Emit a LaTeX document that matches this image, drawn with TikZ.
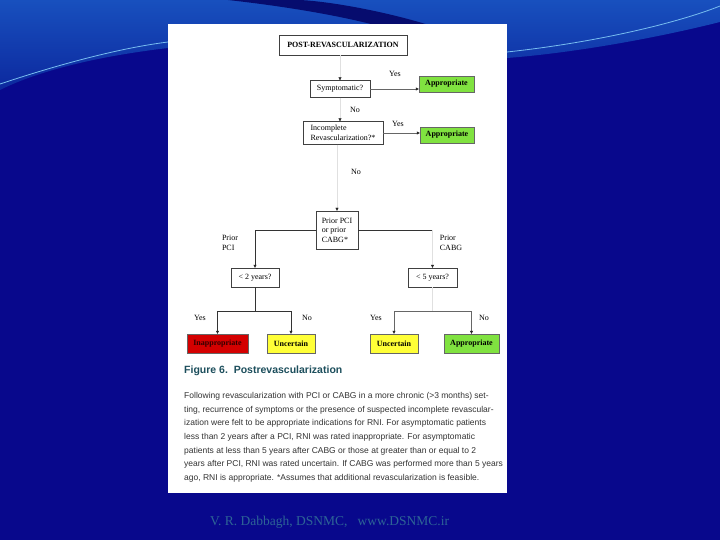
\documentclass[tikz,border=0pt]{standalone}
\usepackage{fontspec}
\setmainfont{Liberation Serif}
\newfontfamily\capfont{Liberation Sans}
\usetikzlibrary{arrows.meta,positioning}
\definecolor{bgblue}{RGB}{8,8,140}
\definecolor{topblue}{RGB}{24,80,190}
\definecolor{midblue}{RGB}{12,40,158}
\definecolor{navy}{RGB}{6,12,110}
\definecolor{streak}{RGB}{120,190,240}
\definecolor{okgreen}{RGB}{128,226,64}
\definecolor{unyellow}{RGB}{255,255,55}
\definecolor{badred}{RGB}{212,0,0}
\definecolor{capteal}{RGB}{28,78,92}
\definecolor{foot}{RGB}{45,100,150}
\begin{document}
\begin{tikzpicture}[x=1pt,y=-1pt,
  q/.style={draw=black!75,fill=white,font=\fontsize{8}{9.5}\selectfont,inner sep=1pt},
  res/.style={draw=black!60,font=\bfseries\fontsize{8}{9.5}\selectfont,inner sep=1pt,minimum height=19pt},
  lbl/.style={font=\fontsize{8}{9.5}\selectfont,align=left,inner sep=0pt},
  faint/.style={draw=black!12},
  >={Triangle[length=3pt,width=3pt,color=black!85]}]
\useasboundingbox (0,0) rectangle (720,540);
% slide background
\fill[bgblue] (0,0) rectangle (720,540);
\shade[top color=topblue,bottom color=midblue] (0,0) -- (720,0) -- (720,22) .. controls (640,42) and (560,54) .. (507,58) -- (168,48) .. controls (100,56) and (40,70) .. (0,90) -- cycle;
\fill[navy] (228,0) .. controls (300,8) and (380,22) .. (420,40) -- (470,40) .. controls (420,18) and (340,2) .. (300,0) -- cycle;
\draw[streak,line width=0.8pt] (0,84) .. controls (60,64) and (120,48) .. (168,42);
\draw[streak,line width=0.8pt] (507,52) .. controls (600,42) and (680,22) .. (720,6);
\fill[white] (168,24) rectangle (507,493);
% flow chart
\node[q,font=\bfseries\fontsize{8}{9.5}\selectfont,minimum width=128pt,minimum height=20pt] (title) at (343,45) {POST-REVASCULARIZATION};
\node[q,minimum width=60pt,minimum height=17pt] (sym) at (340,89) {Symptomatic?};
\node[res,fill=okgreen,minimum width=55pt,minimum height=16pt] (app1) at (446.5,84) {Appropriate};
\node[q,align=left,minimum width=80pt,minimum height=23pt] (inc) at (343,133) {Incomplete\\Revascularization?*};
\node[res,fill=okgreen,minimum width=54pt,minimum height=16pt] (app2) at (447,135) {Appropriate};
\node[q,align=left,minimum width=42pt,minimum height=38pt] (prior) at (337,230) {Prior PCI\\or prior\\CABG*};
\node[q,minimum width=48pt,minimum height=19pt] (lt) at (255,277.5) {< 2 years?};
\node[q,minimum width=49pt,minimum height=19pt] (rt) at (432.5,277.5) {< 5 years?};
\node[res,fill=badred,text=black!80!red,minimum width=61pt] (inap) at (217.5,343.5) {Inappropriate};
\node[res,fill=unyellow,minimum width=48pt] (unc1) at (291,343.5) {Uncertain};
\node[res,fill=unyellow,minimum width=48pt] (unc2) at (394,343.5) {Uncertain};
\node[res,fill=okgreen,minimum width=55pt] (app3) at (471.5,343.5) {Appropriate};
% labels
\node[lbl] (y1) at (395,74) {Yes};
\node[lbl] (n1) at (355,110) {No};
\node[lbl] (y2) at (398,124) {Yes};
\node[lbl] (n2) at (356,172) {No};
\node[lbl] (pp) at (230,243) {Prior\\PCI};
\node[lbl] (pc) at (451,243) {Prior\\CABG};
\node[lbl] (y3) at (200,318) {Yes};
\node[lbl] (n3) at (307,318) {No};
\node[lbl] (y4) at (376,318) {Yes};
\node[lbl] (n4) at (484,318) {No};
% connectors
\draw[faint,->] (title.south -| sym.north) -- (sym.north);
\draw[draw=black!60,->] (sym.east) -- (sym.east -| app1.west);
\draw[faint,->] (sym.south) -- (sym.south |- inc.north);
\draw[draw=black!60,->] (inc.east) -- (inc.east -| app2.west);
\draw[faint,->] (inc.south -| prior.north) -- (prior.north);
\draw[draw=black!80,->] (prior.west) -| (lt.north);
\draw[draw=black!80] (prior.east) -- (prior.east -| rt.north) coordinate (rc);
\draw[faint,->] (rc) -- (rt.north);
\draw[draw=black!80] (lt.south) -- ++(0,24) coordinate (lb);
\draw[draw=black!80,->] (lb) -| (inap.north);
\draw[draw=black!80,->] (lb) -| (unc1.north);
\draw[faint] (rt.south) -- ++(0,24) coordinate (rb);
\draw[draw=black!60,->] (rb) -| (unc2.north);
\draw[draw=black!60,->] (rb) -| (app3.north);
% caption
\node[anchor=west,inner sep=0pt,text=capteal,font=\capfont\bfseries\fontsize{10.5}{12}\selectfont] (cap) at (184,371) {Figure 6.\ \ Postrevascularization};
\node[anchor=north west,inner sep=0pt,align=left,text=black!80,font=\capfont\fontsize{8.5}{13.7}\selectfont] (body) at (184,392) {Following revascularization with PCI or CABG in a more chronic (>3 months) set-\\ting, recurrence of symptoms or the presence of suspected incomplete revascular-\\ization were felt to be appropriate indications for RNI. For asymptomatic patients\\less than 2 years after a PCI, RNI was rated inappropriate. For asymptomatic\\patients at less than 5 years after CABG or those at greater than or equal to 2\\years after PCI, RNI was rated uncertain. If CABG was performed more than 5 years\\ago, RNI is appropriate. *Assumes that additional revascularization is feasible.};
\node[anchor=west,inner sep=0pt,text=foot,font=\fontsize{13.5}{15}\selectfont] (ft) at (210,522) {V. R. Dabbagh, DSNMC,\ \ \ www.DSNMC.ir};
\end{tikzpicture}
\end{document}
